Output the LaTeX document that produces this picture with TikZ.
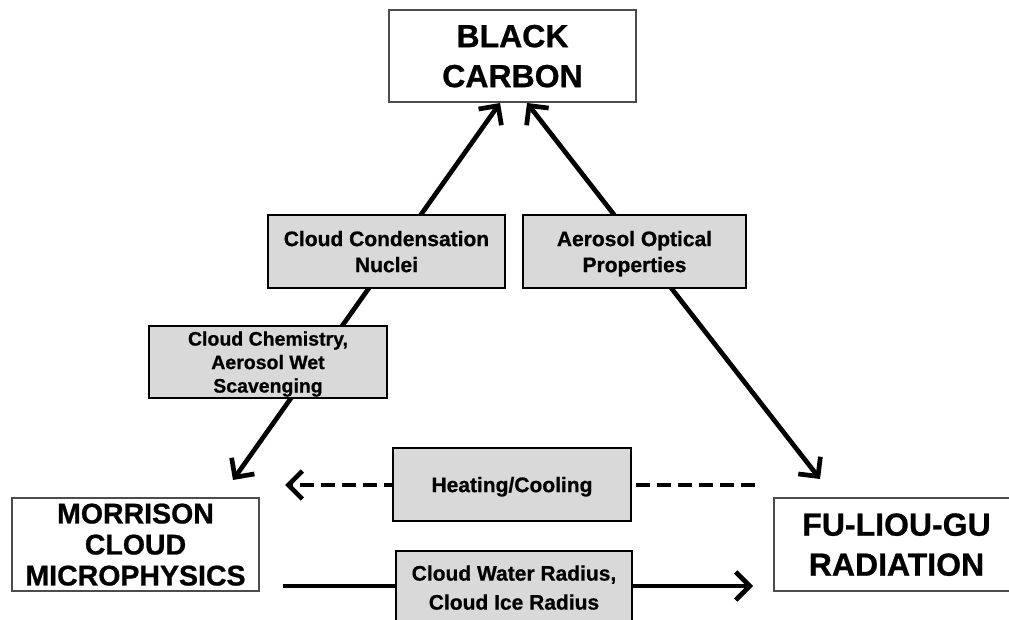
\documentclass[tikz,border=0pt]{standalone}
\usepackage{fontspec}
\setmainfont{Liberation Sans}
\newfontfamily\heavy[FakeBold=0.8]{Liberation Sans Bold}
\usetikzlibrary{arrows.meta}
\definecolor{boxgray}{RGB}{217,217,217}

\begin{document}
\begin{tikzpicture}[x=1pt,y=-1pt,
  model/.style={draw=black!70,line width=1.2pt,fill=white,align=center,inner sep=0pt,text depth=0pt,
    minimum width=247pt,minimum height=93pt,font=\heavy\fontsize{32}{40}\selectfont},
  proc/.style={draw=black,line width=1.5pt,fill=boxgray,align=center,inner sep=0pt,text depth=0pt,
    minimum width=237pt,minimum height=73pt,font=\heavy\fontsize{21}{26}\selectfont},
  flow/.style={line width=4.7pt}
]
\useasboundingbox (0,0) rectangle (1009,620);

% models
\node[model,minimum height=92pt] (bc) at (512.5,56) {BLACK\\CARBON};
\node[model,font=\heavy\fontsize{28.5}{31}\selectfont] (morrison) at (135.5,544.5) {MORRISON\\CLOUD\\MICROPHYSICS};
\node[model,minimum width=245pt] (fu) at (896.5,544.5) {FU-LIOU-GU\\RADIATION};

% arrow ends
\coordinate (bcl) at (500,103);
\coordinate (bcr) at (527,103);
\coordinate (mt) at (233,480);
\coordinate (ft) at (820,479);
\coordinate (hr) at (755,485);
\coordinate (hl) at (285,485);
\coordinate (wl) at (283,586);
\coordinate (wr) at (753,586);

% connectors
\draw[flow,{Straight Barb[length=14pt,width=28pt]}-{Straight Barb[length=14pt,width=28pt]}] (bcl) -- (mt);
\draw[flow,{Straight Barb[length=14pt,width=28pt]}-{Straight Barb[length=14pt,width=28pt]}] (bcr) -- (ft);
\draw[flow,dash pattern=on 14pt off 7pt,-{Straight Barb[length=14pt,width=28pt]}] (hr) -- (hl);
\draw[flow,-{Straight Barb[length=14pt,width=28pt]}] (wl) -- (wr);

% process boxes
\node[proc] (ccn) at (386.5,251.5) {Cloud Condensation\\Nuclei};
\node[proc,minimum width=223pt] (aop) at (634.5,251.5) {Aerosol Optical\\Properties};
\node[proc,minimum width=238pt,minimum height=72pt,font=\heavy\fontsize{19.5}{23.5}\selectfont] (chem) at (268,362) {Cloud Chemistry,\\Aerosol Wet\\Scavenging};
\node[proc,minimum width=238pt] (heat) at (512,484.5) {Heating/Cooling};
\node[proc,minimum width=236pt,font=\heavy\fontsize{21}{29}\selectfont] (water) at (514,587.5) {Cloud Water Radius,\\Cloud Ice Radius};

\end{tikzpicture}
\end{document}
